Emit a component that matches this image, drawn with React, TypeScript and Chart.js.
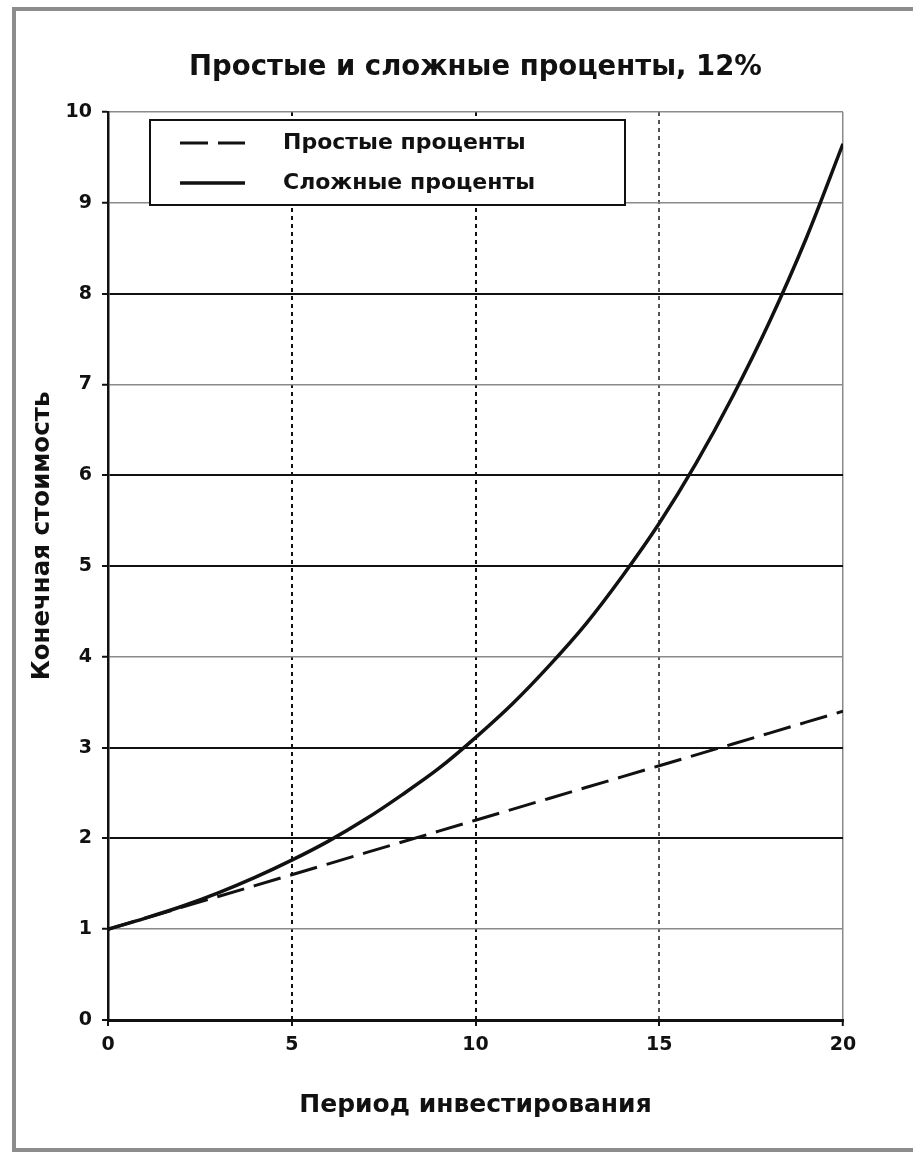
import React, { useEffect, useRef } from "react";
import { Chart, registerables } from "chart.js";

Chart.register(...registerables);

const chartTitle = "Простые и сложные проценты, 12%";
const xAxisTitle = "Период инвестирования";
const yAxisTitle = "Конечная стоимость";
const seriesLabels = ["Простые проценты", "Сложные проценты"];

const years = [0, 1, 2, 3, 4, 5, 6, 7, 8, 9, 10, 11, 12, 13, 14, 15, 16, 17, 18, 19, 20];
const simpleValues = [1.0, 1.12, 1.24, 1.36, 1.48, 1.6, 1.72, 1.84, 1.96, 2.08, 2.2, 2.32, 2.44, 2.56, 2.68, 2.8, 2.92, 3.04, 3.16, 3.28, 3.4];
const compoundValues = [1.0, 1.12, 1.25, 1.4, 1.57, 1.76, 1.97, 2.21, 2.48, 2.77, 3.11, 3.48, 3.9, 4.36, 4.89, 5.47, 6.13, 6.87, 7.69, 8.61, 9.65];

const xTicks = [0, 5, 10, 15, 20];
const yTicks = [0, 1, 2, 3, 4, 5, 6, 7, 8, 9, 10];
const lightYLines = [1, 4, 7, 9, 10];

const FONT = "'DejaVu Sans', 'Liberation Sans', sans-serif";

const boxLegendPlugin = {
  id: "boxLegend",
  afterDatasetsDraw(chart: any) {
    const { ctx, chartArea } = chart;
    const x0 = chartArea.left + 42;
    const y0 = chartArea.top + 8;
    const w = 475;
    const h = 85;
    ctx.save();
    ctx.fillStyle = "#ffffff";
    ctx.fillRect(x0, y0, w, h);
    ctx.lineWidth = 2;
    ctx.strokeStyle = "#111111";
    ctx.setLineDash([]);
    ctx.strokeRect(x0, y0, w, h);
    chart.data.datasets.forEach((ds: any, i: number) => {
      const y = y0 + 23 + i * 40;
      ctx.setLineDash(ds.borderDash || []);
      ctx.lineWidth = ds.borderWidth;
      ctx.strokeStyle = ds.borderColor;
      ctx.beginPath();
      ctx.moveTo(x0 + 30, y);
      ctx.lineTo(x0 + 95, y);
      ctx.stroke();
      ctx.setLineDash([]);
      ctx.fillStyle = "#111111";
      ctx.font = `bold 22px ${FONT}`;
      ctx.textAlign = "left";
      ctx.textBaseline = "middle";
      ctx.fillText(ds.label, x0 + 133, y);
    });
    ctx.restore();
  },
};

const yTitlePlugin = {
  id: "yTitle",
  afterDraw(chart: any) {
    const { ctx, chartArea } = chart;
    ctx.save();
    ctx.translate(43, chartArea.top + 424);
    ctx.rotate(-Math.PI / 2);
    ctx.fillStyle = "#111111";
    ctx.font = `bold 24.5px ${FONT}`;
    ctx.textAlign = "center";
    ctx.textBaseline = "middle";
    ctx.fillText(yAxisTitle, 0, 0);
    ctx.restore();
  },
};

export default function App() {
  const canvasRef = useRef<HTMLCanvasElement | null>(null);

  useEffect(() => {
    if (!canvasRef.current) return;
    const chart = new Chart(canvasRef.current, {
      type: "line",
      data: {
        datasets: [
          {
            label: seriesLabels[0],
            data: years.map((x, i) => ({ x, y: simpleValues[i] })),
            borderColor: "#111111",
            borderWidth: 3,
            borderDash: [28, 10],
            pointRadius: 0,
            fill: false,
            tension: 0,
          },
          {
            label: seriesLabels[1],
            data: years.map((x, i) => ({ x, y: compoundValues[i] })),
            borderColor: "#111111",
            borderWidth: 3.5,
            pointRadius: 0,
            fill: false,
            cubicInterpolationMode: "monotone",
          },
        ],
      },
      options: {
        responsive: false,
        animation: false,
        layout: { padding: { left: 0, right: 70, top: 0, bottom: 0 } },
        plugins: {
          legend: { display: false },
          tooltip: { enabled: false },
          title: {
            display: true,
            text: chartTitle,
            fullSize: false,
            color: "#111111",
            font: { family: FONT, size: 27.5, weight: "bold", lineHeight: 1.2 },
            padding: { top: 51, bottom: 28 },
          },
        },
        scales: {
          x: {
            type: "linear",
            min: 0,
            max: 20,
            afterBuildTicks: (scale: any) => {
              scale.ticks = xTicks.map((v) => ({ value: v }));
            },
            afterFit: (scale: any) => {
              scale.height = 132;
            },
            ticks: {
              color: "#111111",
              padding: 8,
              font: { family: FONT, size: 19, weight: "bold" },
            },
            grid: {
              drawTicks: true,
              tickLength: 6,
              tickColor: "#111111",
              tickWidth: 2,
              tickBorderDash: [],
              color: (ctx: any) => {
                const v = ctx.tick?.value;
                if (v === 20) return "#8a8a8a";
                if (v === 15) return "#555555";
                return "#111111";
              },
              lineWidth: (ctx: any) => {
                const v = ctx.tick?.value;
                if (v === 20) return 1.5;
                return 2;
              },
            },
            border: {
              display: true,
              color: "#111111",
              width: 3,
              dash: (ctx: any) => {
                const v = ctx.tick?.value;
                if (v === 5 || v === 10 || v === 15) return [4, 4];
                return [];
              },
            },
            title: {
              display: true,
              text: xAxisTitle,
              color: "#111111",
              font: { family: FONT, size: 25, weight: "bold", lineHeight: 1.2 },
              padding: { top: 20, bottom: 32 },
            },
          },
          y: {
            type: "linear",
            min: 0,
            max: 10,
            afterBuildTicks: (scale: any) => {
              scale.ticks = yTicks.map((v) => ({ value: v }));
            },
            afterFit: (scale: any) => {
              scale.width = 108;
            },
            ticks: {
              color: "#111111",
              padding: 10,
              font: { family: FONT, size: 19, weight: "bold" },
            },
            grid: {
              drawTicks: true,
              tickLength: 6,
              tickColor: "#111111",
              tickWidth: 2,
              color: (ctx: any) => {
                const v = ctx.tick?.value;
                return lightYLines.includes(v) ? "#8a8a8a" : "#111111";
              },
              lineWidth: (ctx: any) => {
                const v = ctx.tick?.value;
                return lightYLines.includes(v) ? 1.5 : 2;
              },
            },
            border: { display: true, color: "#111111", width: 2.5 },
            title: { display: false },
          },
        },
      },
      plugins: [boxLegendPlugin, yTitlePlugin],
    } as any);
    return () => chart.destroy();
  }, []);

  return (
    <div
      style={{
        position: "absolute",
        left: 0,
        top: 0,
        width: 913,
        height: 1152,
        overflow: "hidden",
        background: "#ffffff",
      }}
    >
      <div
        style={{
          position: "absolute",
          left: 12,
          top: 7,
          width: 960,
          height: 1145,
          boxSizing: "border-box",
          border: "4px solid #8c8c8c",
        }}
      />
      <canvas
        ref={canvasRef}
        width={913}
        height={1152}
        style={{ position: "absolute", left: 0, top: 0, display: "block" }}
      />
    </div>
  );
}
